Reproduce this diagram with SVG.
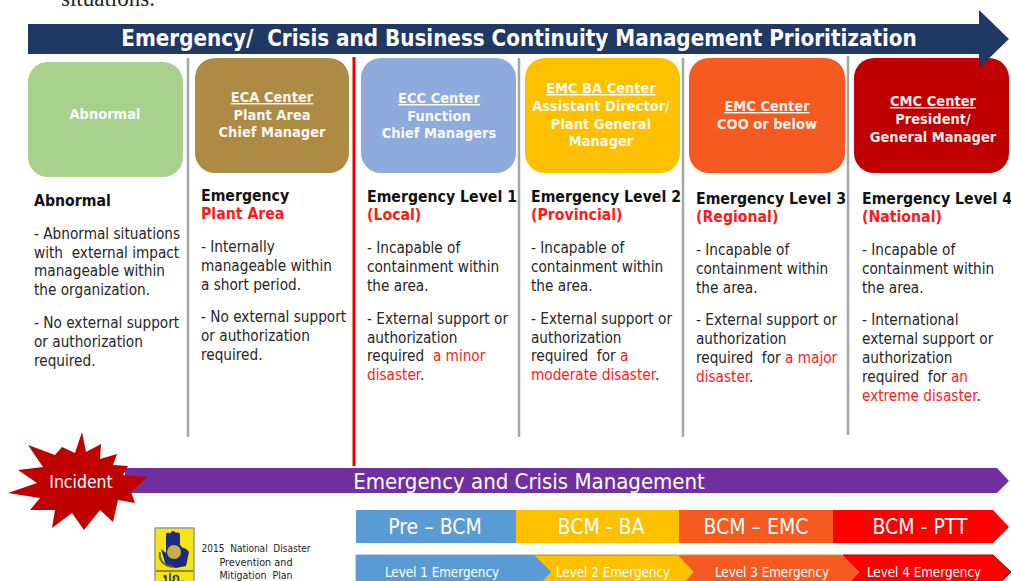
<svg xmlns="http://www.w3.org/2000/svg" width="1011" height="581" viewBox="0 0 1011 581">
<style>
text{font-family:"DejaVu Sans","Liberation Sans",sans-serif;font-stretch:condensed;white-space:pre}
.h{font-weight:700;font-size:14.5px;fill:#fff;text-anchor:middle;fill-opacity:.95}
.u{text-decoration:underline}
.t{font-size:15.2px;fill:#262626}
.b{font-weight:700;font-size:15.7px;fill:#111}
.r{fill:#ff1a1a}
.w{fill:#fff;text-anchor:middle}
.sep{stroke:#a6a6a6;stroke-width:2.5;fill:none}
</style>
<text x="61" y="6" font-size="23" style="font-family:'Liberation Serif',serif;font-stretch:normal" fill="#222">situations.</text>
<g id="connectors">
<line class="sep" x1="188" y1="58" x2="188" y2="437"/>
<line x1="354" y1="57" x2="354" y2="466" stroke="#ee0000" stroke-width="3"/>
<line class="sep" x1="519" y1="58" x2="519" y2="437"/>
<line class="sep" x1="683" y1="58" x2="683" y2="437"/>
<line class="sep" x1="848" y1="56" x2="848" y2="435"/>
</g>
<g id="n-abnormal"><rect x="28" y="62" width="155" height="115" rx="20" fill="#a9d18e"/><text x="105" y="119" class="h">Abnormal</text></g>
<g id="n-eca"><rect x="195" y="58" width="154" height="115" rx="20" fill="#ad8b45"/><text x="272" y="102" class="h u">ECA Center</text><text x="272" y="120" class="h">Plant Area</text><text x="272" y="137" class="h">Chief Manager</text></g>
<g id="n-ecc"><rect x="361" y="58" width="155" height="115" rx="20" fill="#8faadc"/><text x="439" y="103" class="h u">ECC Center</text><text x="439" y="121" class="h">Function</text><text x="439" y="138" class="h">Chief Managers</text></g>
<g id="n-emcba"><rect x="525" y="58" width="155" height="115" rx="20" fill="#ffc000"/><text x="601" y="93" class="h u">EMC BA Center</text><text x="601" y="111" class="h">Assistant Director/</text><text x="601" y="129" class="h">Plant General</text><text x="601" y="146" class="h">Manager</text></g>
<g id="n-emc"><rect x="689" y="58" width="156" height="115" rx="20" fill="#f55a21"/><text x="767" y="111" class="h u">EMC Center</text><text x="767" y="129" class="h">COO or below</text></g>
<g id="n-cmc"><rect x="854" y="58" width="155" height="115" rx="20" fill="#c00000"/><text x="933" y="106" class="h u">CMC Center</text><text x="933" y="124" class="h">President/</text><text x="933" y="142" class="h">General Manager</text></g>
<g id="top-arrow"><polygon points="28,24 979,24 979,10 1009,39 979,68 979,54 28,54" fill="#203864"/><text x="519" y="46" class="w" font-size="22.2" font-weight="700">Emergency/  Crisis and Business Continuity Management Prioritization</text></g>
<g id="col-abnormal"><text x="34" y="206" class="b">Abnormal</text><text x="34" y="239" class="t">- Abnormal situations</text><text x="34" y="258" class="t">with  external impact</text><text x="34" y="276" class="t">manageable within</text><text x="34" y="295" class="t">the organization.</text><text x="34" y="328" class="t">- No external support</text><text x="34" y="347" class="t">or authorization</text><text x="34" y="366" class="t">required.</text></g>
<g id="col-eca"><text x="201" y="201" class="b">Emergency</text><text x="201" y="219" class="b r">Plant Area</text><text x="201" y="252" class="t">- Internally</text><text x="201" y="271" class="t">manageable within</text><text x="201" y="290" class="t">a short period.</text><text x="201" y="322" class="t">- No external support</text><text x="201" y="341" class="t">or authorization</text><text x="201" y="360" class="t">required.</text></g>
<g id="col-l1"><text x="367" y="202" class="b">Emergency Level 1</text><text x="367" y="220" class="b r">(Local)</text><text x="367" y="253" class="t">- Incapable of</text><text x="367" y="272" class="t">containment within</text><text x="367" y="291" class="t">the area.</text><text x="367" y="324" class="t">- External support or</text><text x="367" y="343" class="t">authorization</text><text x="367" y="361" class="t">required  <tspan class="r">a minor</tspan></text><text x="367" y="380" class="t"><tspan class="r">disaster</tspan>.</text></g>
<g id="col-l2"><text x="531" y="202" class="b">Emergency Level 2</text><text x="531" y="220" class="b r">(Provincial)</text><text x="531" y="253" class="t">- Incapable of</text><text x="531" y="272" class="t">containment within</text><text x="531" y="291" class="t">the area.</text><text x="531" y="324" class="t">- External support or</text><text x="531" y="343" class="t">authorization</text><text x="531" y="361" class="t">required  for <tspan class="r">a</tspan></text><text x="531" y="380" class="t"><tspan class="r">moderate disaster</tspan>.</text></g>
<g id="col-l3"><text x="696" y="204" class="b">Emergency Level 3</text><text x="696" y="222" class="b r">(Regional)</text><text x="696" y="255" class="t">- Incapable of</text><text x="696" y="274" class="t">containment within</text><text x="696" y="293" class="t">the area.</text><text x="696" y="325" class="t">- External support or</text><text x="696" y="344" class="t">authorization</text><text x="696" y="363" class="t">required  for <tspan class="r">a major</tspan></text><text x="696" y="382" class="t"><tspan class="r">disaster</tspan>.</text></g>
<g id="col-l4"><text x="862" y="204" class="b">Emergency Level 4</text><text x="862" y="222" class="b r">(National)</text><text x="862" y="255" class="t">- Incapable of</text><text x="862" y="274" class="t">containment within</text><text x="862" y="293" class="t">the area.</text><text x="862" y="325" class="t">- International</text><text x="862" y="344" class="t">external support or</text><text x="862" y="363" class="t">authorization</text><text x="862" y="382" class="t">required  for <tspan class="r">an</tspan></text><text x="862" y="401" class="t"><tspan class="r">extreme disaster</tspan>.</text></g>
<g id="ecm-bar"><polygon points="125,468 997,468 1009,481 997,493 125,493" fill="#7030a0"/><text x="529" y="489" class="w" font-size="22">Emergency and Crisis Management</text></g>
<g id="incident"><polygon points="82,432 86,452 101,444 100,459 117,454 113,465 128,466 123,475 147,477 131,492 135,503 118,500 113,522 100,510 84,530 72,513 52,528 55,510 30,510 40,498 8,493 37,483 18,470 43,467 28,445 55,455 62,447 75,453" fill="#c00000"/><text x="81" y="488" class="w" font-size="17.5">Incident</text></g>
<g id="bcm">
<rect x="356" y="510" width="160" height="33" fill="#5b9bd5"/><rect x="516" y="510" width="163" height="33" fill="#ffc000"/><rect x="679" y="510" width="154" height="33" fill="#f55a21"/><polygon points="833,510 993,510 1009,527 993,543 833,543" fill="#ff0000"/>
<text x="435" y="534" class="w" font-size="21">Pre – BCM</text><text x="601" y="534" class="w" font-size="21">BCM - BA</text><text x="756" y="534" class="w" font-size="21">BCM – EMC</text><text x="920" y="534" class="w" font-size="21">BCM - PTT</text>
</g>
<g id="levels">
<polygon points="843,555 993,555 1011,572 993,590 843,590" fill="#ff0000" stroke="#a00000"/>
<polygon points="679,555 842,555 859,572 842,590 679,590" fill="#f55a21" stroke="#e08020"/>
<polygon points="534,555 678,555 694,572 678,590 534,590" fill="#ffc000" stroke="#c09000"/>
<polygon points="356,555 534,555 551,572 534,590 356,590" fill="#5b9bd5" stroke="#7f9fc8"/>
<text x="442" y="577" class="w" font-size="13.3">Level 1 Emergency</text><text x="613" y="577" class="w" font-size="13.3">Level 2 Emergency</text><text x="772" y="577" class="w" font-size="13.3">Level 3 Emergency</text><text x="924" y="577" class="w" font-size="13.3">Level 4 Emergency</text>
</g>
<g id="logo"><rect x="155" y="528" width="39" height="55" fill="#f7e414" stroke="#999" stroke-width="1.5"/><line x1="156" y1="571" x2="193" y2="571" stroke="#333" stroke-width="1"/><path d="M161 549 L166 553 L166 534 Q168 531 170 534 L171 532 Q173 530 175 532 L176 533 Q178 531 180 534 L180 545 L183 548 Q186 548 189 552 L186 566 L176 568 L166 566Z" fill="#1f2a80"/><circle cx="174" cy="552" r="7" fill="#c8b040"/><path d="M160 552 Q158 564 172 567" fill="none" stroke="#6a6a30" stroke-width="2"/><text x="174" y="583" font-size="13" font-weight="700" text-anchor="middle" fill="#1f2a80">ปภ.</text></g>
<g id="plan-text" fill="#222"><text x="256" y="552" text-anchor="middle" font-size="10">2015  National  Disaster</text><text x="256" y="566" text-anchor="middle" font-size="10.8">Prevention and</text><text x="256" y="579" text-anchor="middle" font-size="10.5">Mitigation  Plan</text></g>
</svg>
